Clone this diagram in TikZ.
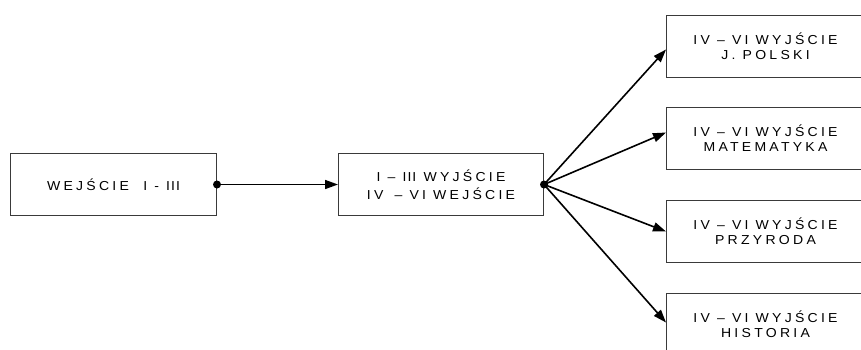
\documentclass[tikz,border=0pt]{standalone}
\usepackage{fontspec}
\setmainfont{Liberation Sans}
\newfontfamily\spacedfont[LetterSpace=25,FakeStretch=1.08]{Liberation Sans}
\newfontfamily\plainfont[FakeStretch=1.08,LetterSpace=8]{Liberation Sans}
\newcommand{\tightgroup}[1]{{\plainfont #1}}
\usetikzlibrary{arrows.meta}
\definecolor{boxgray}{HTML}{3A3A3A}
\begin{document}
\begin{tikzpicture}[x=1pt,y=-1pt,
  box/.style={draw=boxgray, line width=1pt, inner sep=0pt, anchor=north west,
    minimum height=62pt, align=center,
    font=\spacedfont\fontsize{13}{15}\selectfont},
  conn/.style={black, line width=1.6pt, -{Triangle[length=13pt,width=9pt]}},
  dot/.style={black}]
\useasboundingbox (0,0) rectangle (861,349);
\clip (0,0) rectangle (861,349);

% input stage
\node[box, minimum width=206pt] (in) at (10,153) {WEJŚCIE \ I - \tightgroup{III}};
% middle stage
\node[box, minimum width=205pt] (mid) at (338,153)
  {I – \tightgroup{III} WYJŚCIE\\[3pt]IV\hspace{4pt} – VI WEJŚCIE};

% output stages
\node[box, minimum width=198pt] (r1) at (666,15)  {IV – VI WYJŚCIE\\J. POLSKI};
\node[box, minimum width=198pt] (r2) at (666,107) {IV – VI WYJŚCIE\\MATEMATYKA};
\node[box, minimum width=198pt] (r3) at (666,200) {IV – VI WYJŚCIE\\PRZYRODA};
\node[box, minimum width=198pt] (r4) at (666,293) {IV – VI WYJŚCIE\\HISTORIA};

% connectors
\draw[conn] (in.east) -- (mid.west);
\draw[conn] (mid.east) -- ([yshift=-3pt]r1.west);
\draw[conn] (mid.east) -- ([yshift=6pt]r2.west);
\draw[conn] (mid.east) -- (r3.west);
\draw[conn] (mid.east) -- ([yshift=2pt]r4.west);
\fill[dot] (in.east) circle (4pt);
\fill[dot] (mid.east) circle (4pt);
\end{tikzpicture}
\end{document}
